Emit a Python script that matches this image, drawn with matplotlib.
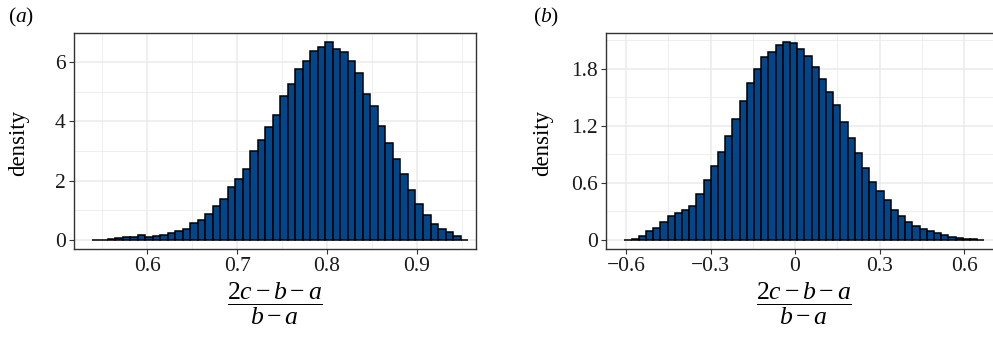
import matplotlib
matplotlib.use('Agg')
import matplotlib.pyplot as plt
import numpy as np
from matplotlib.ticker import FixedLocator

# panel (a): histogram density of (2c-b-a)/(b-a), 50 bins
a_range = (0.539, 0.957)
a_density = [
    0.01, 0.02, 0.04, 0.07, 0.10, 0.11, 0.16, 0.12, 0.15, 0.17,
    0.24, 0.31, 0.37, 0.56, 0.69, 0.87, 1.15, 1.39, 1.79, 2.07,
    2.38, 3.01, 3.36, 3.80, 4.20, 4.85, 5.27, 5.75, 6.04, 6.38,
    6.49, 6.66, 6.44, 6.33, 6.04, 5.64, 4.91, 4.51, 3.85, 3.28,
    2.72, 2.24, 1.70, 1.22, 0.85, 0.53, 0.38, 0.27, 0.15, 0.02,
]
a_xticks = [0.6, 0.7, 0.8, 0.9]
a_xlabels = ['0.6', '0.7', '0.8', '0.9']
a_yticks = [0, 2, 4, 6]
a_ylabels = ['0', '2', '4', '6']

# panel (b)
b_range = (-0.606, 0.672)
b_density = [
    0.00, 0.01, 0.04, 0.09, 0.13, 0.19, 0.25, 0.28, 0.31, 0.36,
    0.48, 0.63, 0.78, 0.93, 1.09, 1.27, 1.46, 1.65, 1.80, 1.92,
    1.98, 2.05, 2.08, 2.07, 2.01, 1.93, 1.82, 1.69, 1.56, 1.42,
    1.24, 1.07, 0.91, 0.76, 0.61, 0.51, 0.42, 0.32, 0.25, 0.19,
    0.15, 0.12, 0.09, 0.07, 0.05, 0.03, 0.02, 0.01, 0.01, 0.005,
]
b_xticks = [-0.6, -0.3, 0, 0.3, 0.6]
b_xlabels = ['\u22120.6', '\u22120.3', '0', '0.3', '0.6']
b_yticks = [0, 0.6, 1.2, 1.8]
b_ylabels = ['0', '0.6', '1.2', '1.8']

FILL = '#00468B'
GRID = '#EBEBEB'

plt.rcParams['font.family'] = ['Liberation Serif', 'DejaVu Serif']
plt.rcParams['mathtext.fontset'] = 'custom'
plt.rcParams['mathtext.rm'] = 'Liberation Serif'
plt.rcParams['mathtext.it'] = 'Liberation Serif:italic'
plt.rcParams['mathtext.cal'] = 'Liberation Serif:italic'

XLABEL = r'$\dfrac{2c - b - a}{b - a}$'


def draw_panel(ax, rng, dens, xlim, ylim, xticks, xlabels, yticks, ylabels,
               xminor, yminor, ylab_x):
    edges = np.linspace(rng[0], rng[1], len(dens) + 1)
    ax.bar(edges[:-1], dens, width=np.diff(edges), align='edge',
           color=FILL, edgecolor='black', linewidth=1.1, zorder=3)
    ax.set_xlim(xlim)
    ax.set_ylim(ylim)
    ax.set_xticks(xticks)
    ax.set_xticklabels(xlabels)
    ax.set_yticks(yticks)
    ax.set_yticklabels(ylabels)
    ax.xaxis.set_minor_locator(FixedLocator(xminor))
    ax.yaxis.set_minor_locator(FixedLocator(yminor))
    ax.grid(which='major', color=GRID, linewidth=1.1, zorder=0)
    ax.grid(which='minor', color=GRID, linewidth=0.6, zorder=0)
    ax.set_axisbelow(True)
    ax.tick_params(which='minor', length=0)
    ax.tick_params(which='major', length=3.5, width=0.8, color='#333333',
                   labelsize=15.5, labelcolor='#1a1a1a', pad=2.5)
    for s in ax.spines.values():
        s.set_color('#333333')
        s.set_linewidth(1.0)
    ax.set_ylabel('density', fontsize=16.5, va='center')
    ax.yaxis.set_label_coords(ylab_x, 0.49)
    ax.set_xlabel(XLABEL, fontsize=18.5, labelpad=3)


fig = plt.figure(figsize=(9.93, 3.43), dpi=100)

ax1 = fig.add_axes([0.0745, 0.274, 0.405, 0.631])
draw_panel(ax1, a_range, a_density, (0.5184, 0.966), (-0.30, 6.99),
           a_xticks, a_xlabels, a_yticks, a_ylabels,
           [0.55, 0.65, 0.75, 0.85, 0.95], [1, 3, 5], -0.137)

ax2 = fig.add_axes([0.6106, 0.274, 0.3988, 0.631])
draw_panel(ax2, b_range, b_density, (-0.670, 0.736), (-0.095, 2.18),
           b_xticks, b_xlabels, b_yticks, b_ylabels,
           [-0.45, -0.15, 0.15, 0.45], [0.3, 0.9, 1.5, 2.1], -0.162)

fig.text(0.008, 0.948, r'$(a)$', fontsize=15.5, ha='left', va='center')
fig.text(0.537, 0.948, r'$(b)$', fontsize=15.5, ha='left', va='center')

fig.savefig('out.png', dpi=100)
